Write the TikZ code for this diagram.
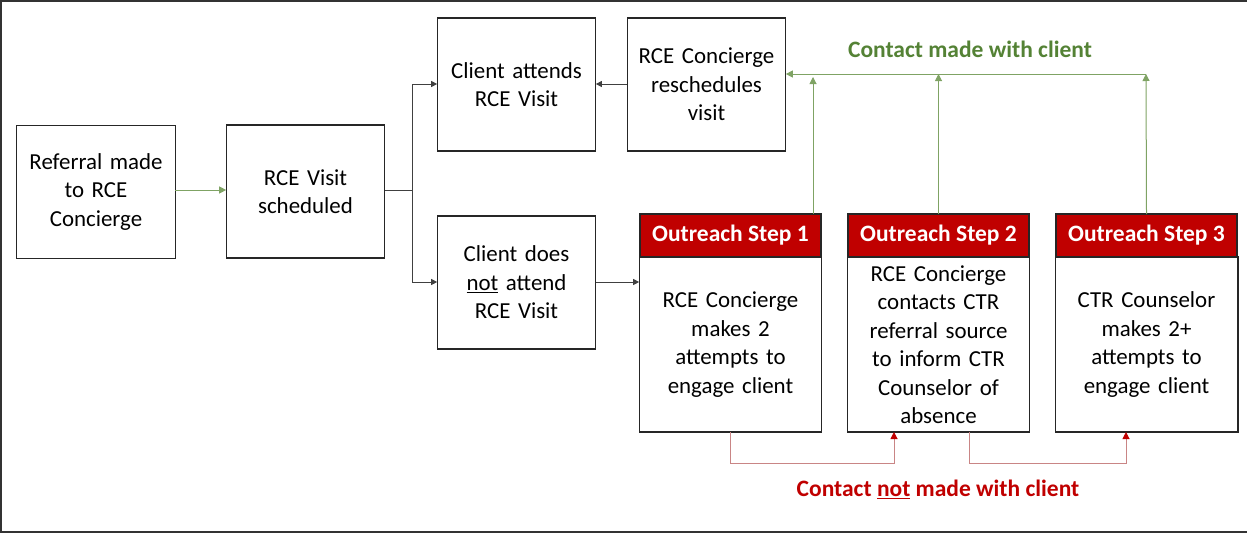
\documentclass[tikz,border=0pt]{standalone}
\usepackage{fontspec}
\setmainfont{Carlito}
\usepackage{tikz}
\usetikzlibrary{arrows.meta,positioning}

\definecolor{hdred}{HTML}{C00000}
\definecolor{txtgreen}{HTML}{548235}
\definecolor{lngreen}{HTML}{7FA364}
\definecolor{lnred}{HTML}{C98585}
\definecolor{lngray}{HTML}{404040}

\begin{document}
\begin{tikzpicture}[x=1pt,y=-1pt,
        font=\fontsize{22.9}{28.5}\selectfont,
        box/.style = {draw=black!85, line width=1.3pt, align=center, outer sep=0pt,
                      minimum width=157pt, minimum height=133pt, text width=152pt},
        head/.style = {draw=black!85, line width=1.3pt, fill=hdred, text=white, font=\fontsize{23.5}{28.5}\selectfont\bfseries,
                       outer sep=0pt, minimum width=181pt, minimum height=43pt},
        body/.style = {draw=black!85, line width=1.3pt, align=center, outer sep=0pt,
                       minimum width=181pt, minimum height=175pt, text width=176pt},
        arrow/.style = {draw=lngray, line width=0.8pt, -{Triangle[length=6pt,width=6pt]}},
        garrow/.style = {draw=lngreen, line width=1pt, -{Triangle[length=7pt,width=7pt]}, color=lngreen},
        rarrow/.style = {draw=lnred, line width=1pt, -{Triangle[length=7pt,width=7pt,color=hdred]}},
        label/.style = {font=\fontsize{23.5}{28.5}\selectfont\bfseries}
        ]
        \useasboundingbox (0,0) rectangle (1247,533);
        \draw[line width=1.5pt, black!80] (1247,1) -- (1,1) -- (1,532) -- (1247,532);

        % boxes on the left
        \node[box, minimum width=158pt] (ref) at (96,192) {Referral made\\to RCE\\Concierge};
        \node[box] (sched) at (305.5,191.5) {RCE Visit\\scheduled};
        \node[box] (attend) at (516.5,84.5) {Client attends\\RCE Visit};
        \node[box] (resched) at (706.5,84.5) {RCE Concierge\\reschedules\\visit};
        \node[box] (noattend) at (516.5,282.5) {Client does\\\underline{not} attend\\RCE Visit};

        % outreach steps
        \node[head] (hd1) at (730.5,235.5) {Outreach Step 1};
        \node[head] (hd2) at (938.5,235.5) {Outreach Step 2};
        \node[head] (hd3) at (1146.5,235.5) {Outreach Step 3};
        \node[body, below=0pt of hd1] (body1) {RCE Concierge\\makes 2\\attempts to\\engage client};
        \node[body, below=0pt of hd2] (body2) {RCE Concierge\\contacts CTR\\referral source\\to inform CTR\\Counselor of\\absence};
        \node[body, below=0pt of hd3] (body3) {CTR Counselor\\makes 2+\\attempts to\\engage client};

        % labels
        \node[label, text=txtgreen] (made) at (970,49) {Contact made with client};
        \node[label, text=hdred] (notmade) at (938,489) {Contact \underline{not} made with client};

        % connectors
        \coordinate (split) at (412,190);
        \draw[garrow] (ref.east |- split) -- (sched.west |- split);
        \draw[lngray, line width=0.8pt] (sched.east |- split) -- (split);
        \draw[arrow] (split) |- ([yshift=0.5pt]attend.west);
        \draw[arrow] (split) |- ([yshift=0.5pt]noattend.west);
        \draw[arrow] ([yshift=0.5pt]resched.west) -- ([yshift=0.5pt]attend.east);
        \draw[arrow] ([yshift=0.5pt]noattend.east) -- ([yshift=0.5pt]noattend.east -| body1.west);

        % contact made
        \coordinate (gend) at (1146,74);
        \coordinate (g1) at (813,77);
        \draw[garrow] (hd3.north) -- (gend);
        \draw[garrow] (gend) -- (resched.east |- gend);
        \draw[garrow] (hd2.north) -- (hd2.north |- gend);
        \draw[garrow] (hd1.north -| g1) -- (g1);

        % contact not made
        \coordinate (r1) at (894,463);
        \coordinate (r2) at (969,463);
        \coordinate (r3) at (1126,463);
        \draw[rarrow] (body1.south) |- (r1) -- (r1 |- body2.south);
        \draw[rarrow] (body2.south -| r2) |- (r3) -- (r3 |- body3.south);
    \end{tikzpicture}
\end{document}
